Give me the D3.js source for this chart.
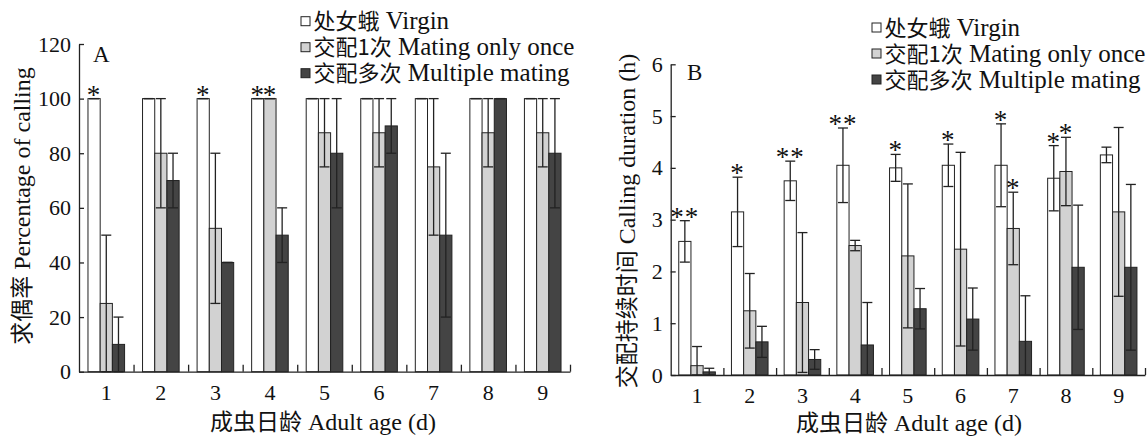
<!DOCTYPE html>
<html>
<head>
<meta charset="utf-8">
<script src="https://cdn.jsdelivr.net/npm/d3@7"></script>
<style>
  body { margin: 0; background: #fff; }
  svg { display: block; }
</style>
</head>
<body>
<script>
// 成虫日龄
const ages = ['1', '2', '3', '4', '5', '6', '7', '8', '9']
const seriesCn = ['处女蛾', '交配1次', '交配多次']
const seriesEn = [' Virgin', ' Mating only once', ' Multiple mating']

// A 求偶率 (%)
const pctTicks = [0, 20, 40, 60, 80, 100, 120]
const pctVirgin = [100, 100, 100, 100, 100, 100, 100, 100, 100]
const pctVirginSE = [0, 0, 0, 0, 0, 0, 0, 0, 0]
const pctVirginSig = ['*', '', '*', '*', '', '', '', '', '']
const pctOnce = [25, 80, 52.5, 100, 87.5, 87.5, 75, 87.5, 87.5]
const pctOnceSE = [25, 20, 27.5, 0, 12.5, 12.5, 25, 12.5, 12.5]
const pctOnceSig = ['', '', '', '*', '', '', '', '', '']
const pctMulti = [10, 70, 40, 50, 80, 90, 50, 100, 80]
const pctMultiSE = [10, 10, 0, 10, 20, 10, 30, 0, 20]
const pctMultiSig = ['', '', '', '', '', '', '', '', '']

// B 交配持续时间 (h)
const durTicks = [0, 1, 2, 3, 4, 5, 6]
const durVirgin = [2.58, 3.15, 3.75, 4.05, 4.0, 4.05, 4.05, 3.8, 4.25]
const durVirginSE = [0.4, 0.67, 0.38, 0.72, 0.26, 0.41, 0.8, 0.63, 0.15]
const durVirginSig = ['**', '*', '**', '**', '*', '*', '*', '*', '']
const durOnce = [0.18, 1.24, 1.4, 2.5, 2.3, 2.43, 2.83, 3.93, 3.15]
const durOnceSE = [0.37, 0.72, 1.35, 0.1, 1.39, 1.87, 0.7, 0.66, 1.63]
const durOnceSig = ['', '', '', '', '', '', '*', '*', '']
const durMulti = [0.06, 0.64, 0.3, 0.58, 1.28, 1.08, 0.65, 2.08, 2.08]
const durMultiSE = [0.07, 0.3, 0.19, 0.82, 0.39, 0.6, 0.88, 1.2, 1.6]
const durMultiSig = ['', '', '', '', '', '', '', '', '']

const fills = ['#ffffff', '#d2d2d2', '#444444']
const ink = '#222'
const serif = '"Liberation Serif", "Times New Roman", serif'
const cjk = '"Noto Sans CJK SC", sans-serif'

const svg = d3.select('body').append('svg')
  .attr('width', 1148)
  .attr('height', 436)

// 中英文混排：中文一个 tspan，英文一个 tspan
function mixedText(parent, cn, en, cnSize, enSize) {
  const t = parent.append('text').attr('fill', '#111')
  t.append('tspan').attr('font-family', cjk).attr('font-size', cnSize).text(cn)
  t.append('tspan').attr('font-family', serif).attr('font-size', enSize).text(en)
  return t
}

function drawPanel(cfg) {
  const g = svg.append('g')
  const x = d3.scaleBand().domain(ages).range([cfg.x0, cfg.x1])
  const bw = x.bandwidth()
  const groupW = 36.6
  const sub = d3.scaleBand().domain([0, 1, 2]).range([(bw - groupW) / 2, (bw + groupW) / 2])
  const y = d3.scaleLinear().domain([0, d3.max(cfg.ticks)]).range([cfg.y0, cfg.y1])

  cfg.series.forEach((s, si) => {
    const rows = ages.map((a, i) => ({ age: a, v: s.values[i], se: s.se[i], sig: s.sig[i] }))
    const sg = g.append('g')

    // 柱子
    sg.selectAll('rect')
      .data(rows)
      .enter()
      .append('rect')
      .attr('x', d => x(d.age) + sub(si))
      .attr('y', d => y(d.v))
      .attr('width', sub.bandwidth())
      .attr('height', d => y(0) - y(d.v))
      .attr('fill', fills[si])
      .attr('stroke', ink)
      .attr('stroke-width', 1)

    // 误差线
    const cx = d => x(d.age) + sub(si) + sub.bandwidth() / 2
    const hi = d => y(d.v + d.se)
    const lo = d => y(Math.max(0, d.v - d.se))
    const eb = sg.selectAll('g.err')
      .data(rows)
      .enter()
      .append('g')
      .attr('class', 'err')
      .attr('stroke', ink)
      .attr('stroke-width', 1.3)
    eb.append('line')
      .attr('x1', cx).attr('x2', cx)
      .attr('y1', hi).attr('y2', lo)
    eb.append('line')
      .attr('x1', d => cx(d) - 5).attr('x2', d => cx(d) + 5)
      .attr('y1', hi).attr('y2', hi)
    eb.append('line')
      .attr('x1', d => cx(d) - 5).attr('x2', d => cx(d) + 5)
      .attr('y1', lo).attr('y2', lo)

    // 显著性星号
    sg.selectAll('text.sig')
      .data(rows.filter(d => d.sig))
      .enter()
      .append('text')
      .attr('class', 'sig')
      .attr('x', cx)
      .attr('y', d => hi(d) + 5)
      .attr('text-anchor', 'middle')
      .attr('font-family', serif)
      .attr('font-size', 27)
      .attr('letter-spacing', 1)
      .attr('fill', '#111')
      .text(d => d.sig)
  })

  // y 轴
  const yAxis = g.append('g')
    .attr('transform', `translate(${cfg.x0},0)`)
    .call(d3.axisLeft(y).tickValues(cfg.ticks).tickSize(-5).tickSizeOuter(0).tickPadding(8).tickFormat(d => d))
  yAxis.selectAll('path, line').attr('stroke', ink).attr('stroke-width', 1.3)
  yAxis.selectAll('text')
    .attr('font-family', serif)
    .attr('font-size', 22)
    .attr('fill', '#111')

  // x 轴：组间刻度朝上
  const xl = d3.scaleLinear().domain([0, ages.length]).range([cfg.x0, cfg.x1])
  const xAxis = g.append('g')
    .attr('transform', `translate(0,${cfg.y0})`)
    .call(d3.axisBottom(xl).tickValues(d3.range(1, ages.length + 1)).tickSize(-7).tickSizeOuter(0).tickFormat(''))
  xAxis.selectAll('path, line').attr('stroke', ink).attr('stroke-width', 1.3)

  const xLab = g.append('g')
    .attr('transform', `translate(0,${cfg.y0})`)
    .call(d3.axisBottom(x).tickSize(0))
  xLab.select('.domain').remove()
  xLab.selectAll('text')
    .attr('y', cfg.tickLabelY - cfg.y0)
    .attr('dy', null)
    .attr('font-family', serif)
    .attr('font-size', 22)
    .attr('fill', '#111')

  // 面板字母
  g.append('text')
    .attr('x', cfg.letterX).attr('y', cfg.letterY)
    .attr('font-family', serif).attr('font-size', 23)
    .attr('fill', '#111')
    .text(cfg.letter)

  // 坐标轴标题
  mixedText(g, '成虫日龄', ' Adult age (d)', 23, 24)
    .attr('x', cfg.xTitleX).attr('y', cfg.xTitleY)
    .attr('text-anchor', 'middle')
  mixedText(g, cfg.yTitleCn, cfg.yTitleEn, 23, 24)
    .attr('text-anchor', 'middle')
    .attr('transform', `translate(${cfg.yTitleX},${cfg.yTitleY}) rotate(-90)`)

  // 图例
  const lg = g.append('g').attr('transform', `translate(${cfg.legendX},${cfg.legendY})`)
  seriesCn.forEach((cn, i) => {
    const row = lg.append('g').attr('transform', `translate(0,${i * 26})`)
    row.append('rect')
      .attr('x', 0).attr('y', -4.5)
      .attr('width', 9).attr('height', 9)
      .attr('fill', fills[i])
      .attr('stroke', ink)
      .attr('stroke-width', 1)
    mixedText(row, cn, seriesEn[i], 22, 25)
      .attr('x', 12.5).attr('y', 8)
  })
}

drawPanel({
  letter: 'A', letterX: 93, letterY: 62,
  x0: 79, x1: 570, y0: 371.7, y1: 44,
  ticks: pctTicks,
  tickLabelY: 400,
  series: [
    { values: pctVirgin, se: pctVirginSE, sig: pctVirginSig },
    { values: pctOnce, se: pctOnceSE, sig: pctOnceSig },
    { values: pctMulti, se: pctMultiSE, sig: pctMultiSig }
  ],
  xTitleX: 323, xTitleY: 430,
  yTitleCn: '求偶率', yTitleEn: ' Percentage of calling',
  yTitleX: 30, yTitleY: 206,
  legendX: 301, legendY: 21.2
})

drawPanel({
  letter: 'B', letterX: 687, letterY: 80,
  x0: 670.7, x1: 1145, y0: 375, y1: 64.3,
  ticks: durTicks,
  tickLabelY: 403,
  series: [
    { values: durVirgin, se: durVirginSE, sig: durVirginSig },
    { values: durOnce, se: durOnceSE, sig: durOnceSig },
    { values: durMulti, se: durMultiSE, sig: durMultiSig }
  ],
  xTitleX: 909, xTitleY: 431,
  yTitleCn: '交配持续时间', yTitleEn: ' Calling duration (h)',
  yTitleX: 635, yTitleY: 221,
  legendX: 872, legendY: 27.5
})
</script>
</body>
</html>
